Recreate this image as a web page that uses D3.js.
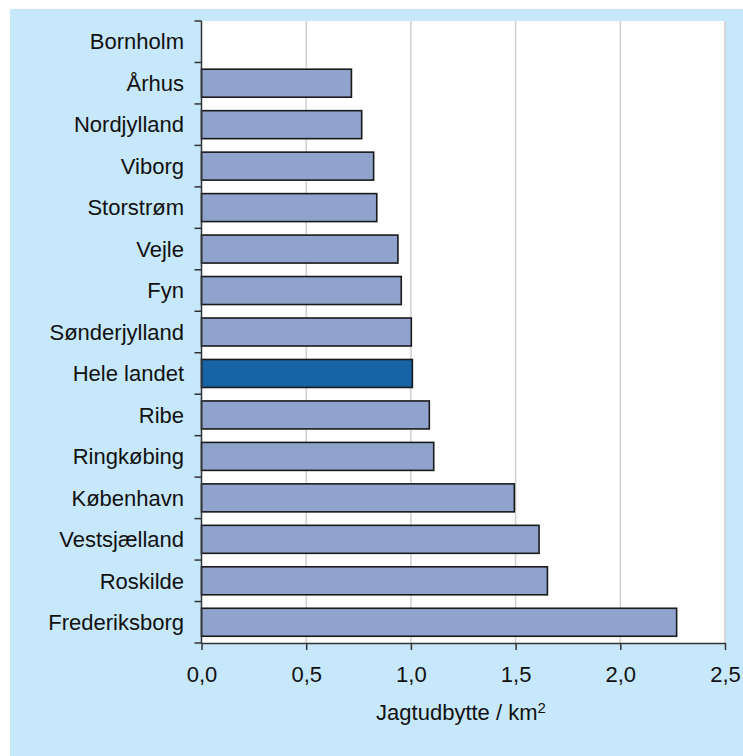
<!DOCTYPE html>
<html>
<head>
<meta charset="utf-8">
<script src="https://cdn.jsdelivr.net/npm/d3@7"></script>
<style>
html,body{margin:0;padding:0;background:#fff;}
svg{display:block;}
text{font-family:"Liberation Sans",Arial,Helvetica,sans-serif;fill:#111;}
</style>
</head>
<body>
<div id="chart"></div>
<script>
const categories = ["Bornholm","Århus","Nordjylland","Viborg","Storstrøm","Vejle","Fyn","Sønderjylland","Hele landet","Ribe","Ringkøbing","København","Vestsjælland","Roskilde","Frederiksborg"];
const values = [null,0.716,0.765,0.822,0.837,0.938,0.954,1.002,1.007,1.088,1.109,1.494,1.612,1.652,2.269];
const highlight = ["Hele landet"];
const xTicks = [0,0.5,1.0,1.5,2.0,2.5];
const xTitle = "Jagtudbytte / km";
const xTitleSup = "2";

const W = 743, H = 756;
const plot = {left:201.5, right:725, top:21, bottom:643};

const svg = d3.select("#chart").append("svg").attr("width",W).attr("height",H);
svg.append("rect").attr("x",0).attr("y",0).attr("width",W).attr("height",H).attr("fill","#ffffff");
svg.append("rect").attr("x",10).attr("y",9).attr("width",W-10).attr("height",H-9).attr("fill","#c7e7fa");
svg.append("rect").attr("x",plot.left).attr("y",plot.top).attr("width",plot.right-plot.left).attr("height",plot.bottom-plot.top).attr("fill","#ffffff");

const x = d3.scaleLinear().domain([0,2.5]).range([plot.left,plot.right]);
const pIn = 0.325;
const y = d3.scaleBand().domain(categories).range([plot.top,plot.bottom]).paddingInner(pIn).paddingOuter(pIn/2);
const step = y.step();

// gridlines
svg.append("g").selectAll("line").data(xTicks.filter(d=>d>0)).join("line")
  .attr("x1",d=>x(d)).attr("x2",d=>x(d)).attr("y1",plot.top).attr("y2",plot.bottom)
  .attr("stroke","#cfcfcf").attr("stroke-width",1.5);

// bars
const data = categories.map((c,i)=>({c, v:values[i]})).filter(d=>d.v!=null);
svg.append("g").selectAll("rect").data(data).join("rect")
  .attr("x",x(0)).attr("y",d=>y(d.c))
  .attr("width",d=>x(d.v)-x(0)).attr("height",y.bandwidth())
  .attr("fill",d=>highlight.includes(d.c)?"#1863a6":"#8fa3cc")
  .attr("stroke","#1a1a1a").attr("stroke-width",1.6);

// y axis line & ticks at band boundaries
const axisCol = "#333";
svg.append("line").attr("x1",plot.left).attr("x2",plot.left).attr("y1",plot.top).attr("y2",plot.bottom)
  .attr("stroke",axisCol).attr("stroke-width",1.5);
const bounds = categories.map(c=>y(c)-step*pIn/2).concat([plot.bottom]);
svg.append("g").selectAll("line").data(bounds).join("line")
  .attr("x1",plot.left-7).attr("x2",plot.left).attr("y1",d=>d).attr("y2",d=>d)
  .attr("stroke",axisCol).attr("stroke-width",1.5);
// category labels
svg.append("g").selectAll("text").data(categories).join("text")
  .attr("x",184).attr("y",d=>y(d)+y.bandwidth()/2).attr("dy","0.35em")
  .attr("text-anchor","end").attr("font-size",22).text(d=>d);

// x axis
const fmt = d=>d3.format(".1f")(d).replace(".",",");
const xAxis = d3.axisBottom(x).tickValues(xTicks).tickFormat(fmt).tickSize(7).tickPadding(16).tickSizeOuter(0);
const gx = svg.append("g").attr("transform",`translate(0,${plot.bottom})`).call(xAxis);
gx.select(".domain").attr("stroke",axisCol).attr("stroke-width",1.5);
gx.selectAll(".tick line").attr("stroke",axisCol).attr("stroke-width",1.5);
gx.selectAll(".tick text").attr("font-size",22).attr("font-family","Liberation Sans, Arial, sans-serif").attr("fill","#111");

// x title
const t = svg.append("text").attr("x",461).attr("y",720).attr("text-anchor","middle").attr("font-size",22);
t.append("tspan").text(xTitle);
t.append("tspan").attr("dy","-0.45em").attr("font-size",15).text(xTitleSup);
</script>
</body>
</html>
